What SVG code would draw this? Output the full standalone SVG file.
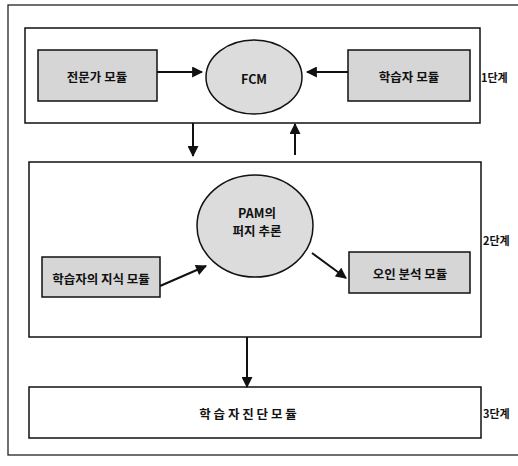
<svg xmlns="http://www.w3.org/2000/svg" width="518" height="466" viewBox="0 0 518 466">
<style>
.frame{fill:none;stroke:#222;stroke-width:1.3}
.stage{fill:#fff;stroke:#111;stroke-width:1.5}
.mod{fill:#d6d6d6;stroke:#111;stroke-width:1.5}
.el{fill:#dcdcdc;stroke:#111;stroke-width:1.5}
.t{font-family:"Noto Sans CJK KR","Noto Sans",sans-serif;font-weight:bold;font-size:12.5px;fill:#111;text-anchor:middle;dominant-baseline:central}
.lab{font-family:"Noto Sans CJK KR","Noto Sans",sans-serif;font-weight:bold;font-size:11px;fill:#111;dominant-baseline:central}
.c{stroke:#111;stroke-width:2;fill:none;marker-end:url(#ah)}
</style>
<defs>
<marker id="ah" viewBox="0 0 10 10" refX="9" refY="5" markerWidth="6" markerHeight="5.5" orient="auto" markerUnits="strokeWidth">
<path d="M0,0 L10,5 L0,10 z" fill="#111"/>
</marker>
</defs>
<rect class="frame" x="8" y="5" width="520" height="450"/>
<g id="stage1">
<rect class="stage" x="25" y="28" width="455" height="95"/>
<text class="lab" x="481" y="77">1단계</text>
</g>
<g id="expert">
<rect class="mod" x="38" y="50" width="119" height="51"/>
<text class="t" x="97" y="76">전문가 모듈</text>
</g>
<g id="fcm">
<ellipse class="el" cx="254" cy="77" rx="48" ry="37"/>
<text class="t" x="254" y="78">FCM</text>
</g>
<g id="learner">
<rect class="mod" x="348" y="50" width="122" height="51"/>
<text class="t" x="409" y="76">학습자 모듈</text>
</g>
<g id="stage2">
<rect class="stage" x="29" y="162" width="452" height="175"/>
<text class="lab" x="483" y="240">2단계</text>
</g>
<g id="pam">
<ellipse class="el" cx="255" cy="226" rx="58" ry="51"/>
<text class="t" x="257" y="212">PAM의</text>
<text class="t" x="257" y="230">퍼지 추론</text>
</g>
<g id="knowledge">
<rect class="mod" x="42" y="257" width="118" height="40"/>
<text class="t" x="101" y="278">학습자의 지식 모듈</text>
</g>
<g id="misconception">
<rect class="mod" x="349" y="252" width="121" height="41"/>
<text class="t" x="410" y="273">오인 분석 모듈</text>
</g>
<g id="stage3">
<rect class="stage" x="29" y="387" width="452" height="51"/>
<text class="t" x="248" y="413">학 습 자 진 단 모 듈</text>
<text class="lab" x="483" y="413">3단계</text>
</g>
<g id="connectors">
<line class="c" x1="157" y1="72" x2="202" y2="72"/>
<line class="c" x1="348" y1="72" x2="307" y2="72"/>
<line class="c" x1="193" y1="123" x2="193" y2="156"/>
<line class="c" x1="295" y1="155" x2="295" y2="124"/>
<line class="c" x1="160" y1="286" x2="206" y2="266"/>
<line class="c" x1="312" y1="253" x2="346" y2="278"/>
<line class="c" x1="247" y1="337" x2="247" y2="387"/>
</g>
</svg>
